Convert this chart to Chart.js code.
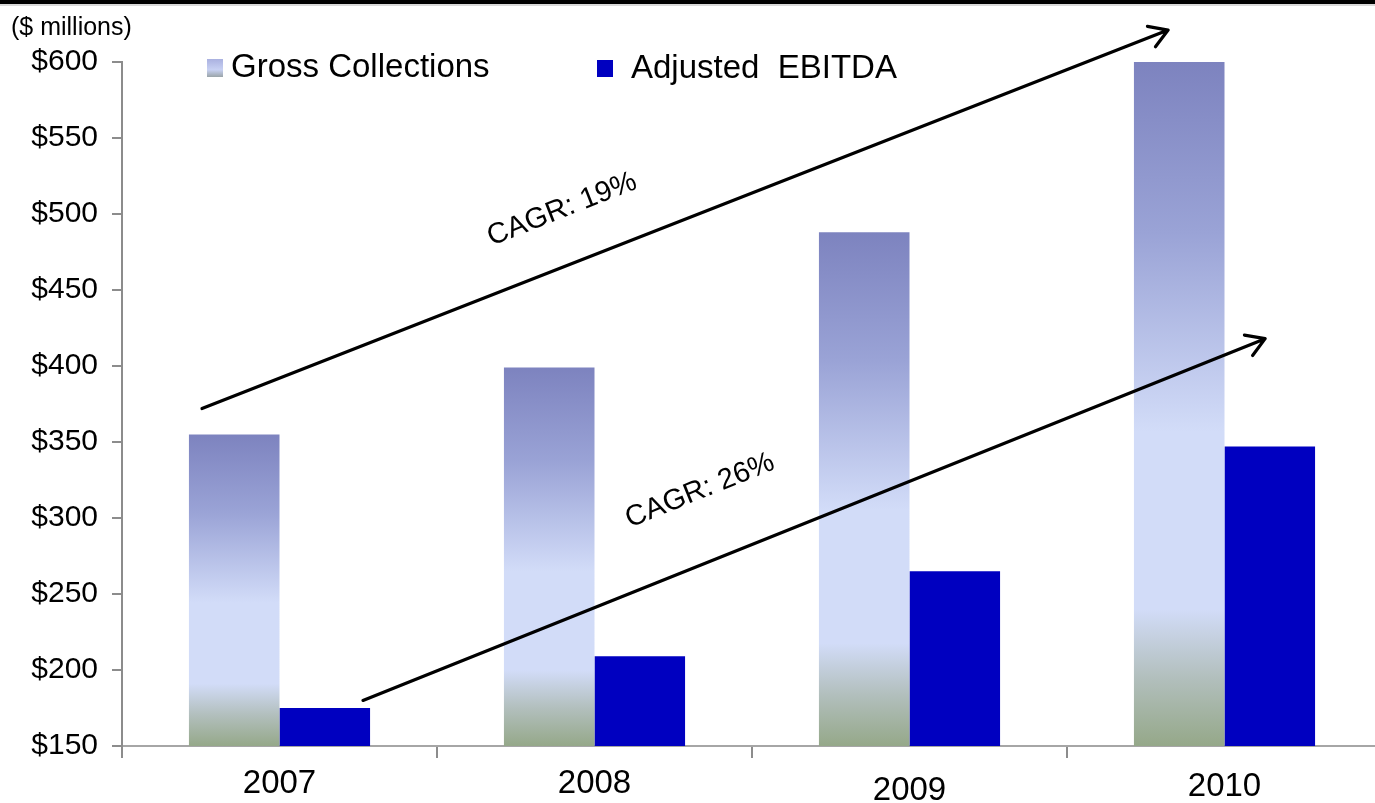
<!DOCTYPE html>
<html>
<head>
<meta charset="utf-8">
<script src="https://cdn.jsdelivr.net/npm/chart.js@4/dist/chart.umd.min.js"></script>
<style>
  html, body { margin: 0; padding: 0; background: #fff; overflow: hidden; }
  #wrap { position: relative; width: 1384px; height: 803px; }
</style>
</head>
<body>
<div id="wrap"><canvas id="chart" width="1384" height="803"></canvas></div>
<script>
// Values in $ millions
const years = ['2007', '2008', '2009', '2010'];
const grossCollections = [355, 399, 488, 600];
const adjustedEbitda = [175, 209, 265, 347];
const seriesNames = ['Gross Collections', 'Adjusted  EBITDA'];
const yMin = 150;
const yMax = 600;
const yStep = 50;
const unitNote = '($ millions)';
const cagrTexts = ['CAGR: 19%', 'CAGR: 26%'];

const FONT = '"Liberation Sans", Arial, sans-serif';
const EBITDA_BLUE = '#0000c0';

// Growth arrows, in category-index / value coordinates
const growthArrows = [
  { from: [-0.246, 372], to: [2.821, 621], text: cagrTexts[0], at: [0.897, 503], angle: -21.5 },
  { from: [0.265, 180], to: [3.129, 418], text: cagrTexts[1], at: [1.335, 318], angle: -22 }
];

// Vertical gradient for each Gross Collections bar, from its top to the axis
function grossFill(context) {
  const chart = context.chart;
  const y = chart.scales && chart.scales.y;
  if (!chart.chartArea || !y || context.type !== 'data') return '#b4bde8';
  const top = y.getPixelForValue(context.raw);
  const bottom = y.getPixelForValue(yMin);
  if (!isFinite(top) || !isFinite(bottom) || bottom - top < 1) return '#b4bde8';
  const g = chart.ctx.createLinearGradient(0, top, 0, bottom);
  g.addColorStop(0.00, '#7d83bf');
  g.addColorStop(0.25, '#9aa3d6');
  g.addColorStop(0.54, '#d2dcf8');
  g.addColorStop(0.80, '#d2dcf8');
  g.addColorStop(0.90, '#b2bfbd');
  g.addColorStop(1.00, '#95a889');
  return g;
}

const headerPlugin = {
  id: 'header',
  afterDraw(chart) {
    const c = chart.ctx;
    c.save();
    // top rule
    c.fillStyle = '#000';
    c.fillRect(0, 0, chart.width, 4);
    c.fillStyle = 'rgba(0,0,0,0.15)';
    c.fillRect(0, 4, chart.width, 2);
    // unit note
    c.fillStyle = '#000';
    c.font = '25px ' + FONT;
    c.textBaseline = 'middle';
    c.textAlign = 'left';
    c.fillText(unitNote, 11, 28);
    c.restore();
  }
};

const legendPlugin = {
  id: 'insideLegend',
  afterDraw(chart) {
    const c = chart.ctx;
    const ds = chart.data.datasets;
    c.save();
    // Gross Collections marker
    const g = c.createLinearGradient(0, 59, 0, 77);
    g.addColorStop(0, '#aab1e0');
    g.addColorStop(0.6, '#c8d1f3');
    g.addColorStop(1, '#9aa4a8');
    c.fillStyle = g;
    c.fillRect(207, 59, 16, 18);
    // Adjusted EBITDA marker
    c.fillStyle = EBITDA_BLUE;
    c.fillRect(597, 60, 16, 17);
    c.fillStyle = '#000';
    c.font = '33px ' + FONT;
    c.textBaseline = 'middle';
    c.textAlign = 'left';
    c.fillText(ds[0].label, 231, 68);
    c.fillText(ds[1].label, 631, 69);
    c.restore();
  }
};

// Year labels under the axis; the third one sits a little lower
const yearLabelPlugin = {
  id: 'yearLabels',
  afterDraw(chart, args, opts) {
    const c = chart.ctx;
    const xs = chart.scales.x;
    const drop = opts.drop || [];
    c.save();
    c.fillStyle = '#000';
    c.font = '33px ' + FONT;
    c.textAlign = 'center';
    c.textBaseline = 'middle';
    chart.data.labels.forEach((lab, i) => {
      c.fillText(lab, xs.getPixelForValue(i), xs.top + 38 + (drop[i] || 0));
    });
    c.restore();
  }
};

const arrowPlugin = {
  id: 'growthArrows',
  afterDatasetsDraw(chart) {
    const c = chart.ctx;
    const xs = chart.scales.x, ys = chart.scales.y;
    c.save();
    c.strokeStyle = '#000';
    c.fillStyle = '#000';
    c.lineWidth = 3.2;
    c.lineCap = 'round';
    c.lineJoin = 'round';
    growthArrows.forEach(a => {
      const x1 = xs.getPixelForValue(a.from[0]), y1 = ys.getPixelForValue(a.from[1]);
      const x2 = xs.getPixelForValue(a.to[0]), y2 = ys.getPixelForValue(a.to[1]);
      const ang = Math.atan2(y2 - y1, x2 - x1);
      const L = 21, s = 0.55;
      c.beginPath();
      c.moveTo(x1, y1);
      c.lineTo(x2, y2);
      c.moveTo(x2 - L * Math.cos(ang - s), y2 - L * Math.sin(ang - s));
      c.lineTo(x2, y2);
      c.lineTo(x2 - L * Math.cos(ang + s), y2 - L * Math.sin(ang + s));
      c.stroke();
      // rotated label
      const tx = xs.getPixelForValue(a.at[0]), ty = ys.getPixelForValue(a.at[1]);
      c.save();
      c.translate(tx, ty);
      c.rotate(a.angle * Math.PI / 180);
      c.font = '29px ' + FONT;
      c.textAlign = 'center';
      c.textBaseline = 'middle';
      c.fillText(a.text, 0, 0);
      c.restore();
    });
    c.restore();
  }
};

new Chart(document.getElementById('chart'), {
  type: 'bar',
  data: {
    labels: years,
    datasets: [
      { label: seriesNames[0], data: grossCollections, backgroundColor: grossFill, borderWidth: 0 },
      { label: seriesNames[1], data: adjustedEbitda, backgroundColor: EBITDA_BLUE, borderWidth: 0 }
    ]
  },
  options: {
    responsive: false,
    devicePixelRatio: 1,
    animation: false,
    layout: { padding: { top: 62, right: 2, left: 0, bottom: 0 } },
    datasets: { bar: { barPercentage: 1.0, categoryPercentage: 0.575 } },
    plugins: {
      legend: { display: false },
      tooltip: { enabled: false },
      yearLabels: { drop: [0, 0, 7, 3] }
    },
    scales: {
      x: {
        offset: true,
        grid: { offset: true, drawOnChartArea: false, drawTicks: true, tickLength: 12, color: '#8c8c8c', lineWidth: 2 },
        border: { color: '#a6a6a6', width: 2 },
        ticks: { display: false },
        afterFit(scale) { scale.height = 57; }
      },
      y: {
        min: yMin,
        max: yMax,
        grid: { drawOnChartArea: false, tickLength: 10, color: '#8c8c8c', lineWidth: 2 },
        border: { color: '#8c8c8c', width: 2 },
        ticks: {
          stepSize: yStep,
          color: '#000',
          font: { family: FONT, size: 30 },
          padding: 14,
          callback: v => '$' + v
        },
        afterFit(scale) { scale.width = 122; }
      }
    }
  },
  plugins: [headerPlugin, legendPlugin, arrowPlugin, yearLabelPlugin]
});
</script>
</body>
</html>
